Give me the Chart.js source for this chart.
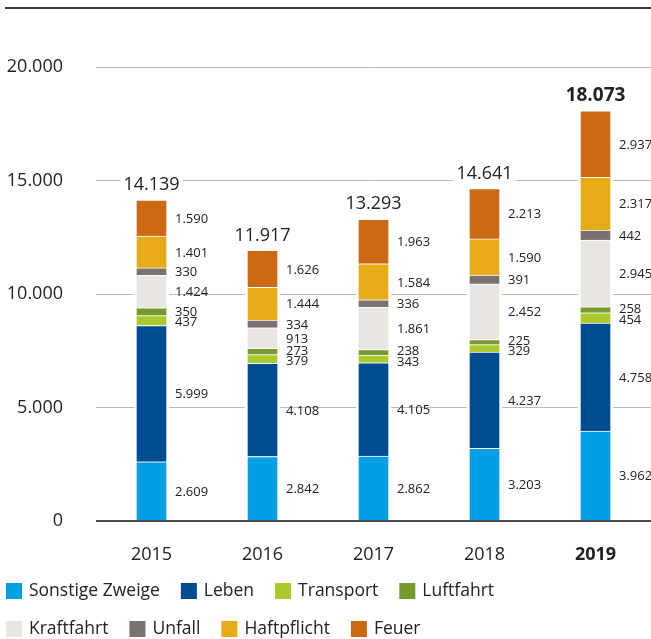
<!DOCTYPE html>
<html>
<head>
<meta charset="utf-8">
<script src="https://cdn.jsdelivr.net/npm/chart.js@4/dist/chart.umd.min.js"></script>
<style>
  html, body { margin: 0; padding: 0; background: #fff; }
  #wrap { width: 651px; height: 639px; position: relative; }
</style>
</head>
<body>
<div id="wrap"><canvas id="c"></canvas></div>
<script>
// Beitragseinnahmen nach Sparten, 2015–2019
const years = ['2015', '2016', '2017', '2018', '2019'];
const totals = [14139, 11917, 13293, 14641, 18073];

const sonstigeZweige = [2609, 2842, 2862, 3203, 3962];
const leben          = [5999, 4108, 4105, 4237, 4758];
const transport      = [437, 379, 343, 329, 454];
const luftfahrt      = [350, 273, 238, 225, 258];
const kraftfahrt     = [1424, 913, 1861, 2452, 2945];
const unfall         = [330, 334, 336, 391, 442];
const haftpflicht    = [1401, 1444, 1584, 1590, 2317];
const feuer          = [1590, 1626, 1963, 2213, 2937];

const yTicks = [0, 5000, 10000, 15000, 20000];

const seriesNames  = ['Sonstige Zweige', 'Leben', 'Transport', 'Luftfahrt', 'Kraftfahrt', 'Unfall', 'Haftpflicht', 'Feuer'];
const seriesValues = [sonstigeZweige, leben, transport, luftfahrt, kraftfahrt, unfall, haftpflicht, feuer];
const seriesColors = ['#009FE3', '#004C93', '#A9C92C', '#78992D', '#E9E6E1', '#7B716F', '#E6AB17', '#CB6914'];

const FONT = '"Open Sans", "Noto Sans", sans-serif';
const TEXT = '#222222';

const fmt = v => String(v).replace(/\B(?=(\d{3})+(?!\d))/g, '.');

// thin rule across the top of the figure
const topRule = {
  id: 'topRule',
  afterDraw(chart) {
    const c = chart.ctx;
    c.save();
    c.strokeStyle = '#3a3a3a';
    c.lineWidth = 2;
    c.beginPath();
    c.moveTo(5, 8);
    c.lineTo(chart.width, 8);
    c.stroke();
    c.restore();
  }
};

// baseline at zero, drawn over the bars
const zeroLine = {
  id: 'zeroLine',
  afterDatasetsDraw(chart) {
    const c = chart.ctx, a = chart.chartArea;
    const y = Math.round(chart.scales.y.getPixelForValue(0));
    c.save();
    c.strokeStyle = '#4a4a4a';
    c.lineWidth = 2;
    c.beginPath();
    c.moveTo(a.left, y);
    c.lineTo(a.right, y);
    c.stroke();
    c.restore();
  }
};

// value labels to the right of every segment, nudged apart where they collide
const segmentLabels = {
  id: 'segmentLabels',
  afterDatasetsDraw(chart) {
    const c = chart.ctx;
    const gap = 10.5;
    c.save();
    c.font = '13px ' + FONT;
    c.fillStyle = TEXT;
    c.textAlign = 'left';
    c.textBaseline = 'middle';
    years.forEach((_, i) => {
      const items = [];
      chart.data.datasets.forEach((ds, d) => {
        const el = chart.getDatasetMeta(d).data[i];
        items.push({ y: (el.y + el.base) / 2, x: el.x + el.width / 2 + 6, text: fmt(ds.data[i]) });
      });
      // items run bottom to top (y decreasing)
      for (let it = 0; it < 200; it++) {
        let moved = false;
        for (let k = 0; k < items.length - 1; k++) {
          const lo = items[k], hi = items[k + 1];
          const sep = lo.y - hi.y;
          if (sep < gap) {
            const push = (gap - sep) / 2;
            lo.y += push; hi.y -= push;
            moved = true;
          }
        }
        if (!moved) break;
      }
      items.forEach(o => c.fillText(o.text, o.x, o.y + 1));
    });
    c.restore();
  }
};

// totals above each stack
const totalLabels = {
  id: 'totalLabels',
  afterDatasetsDraw(chart) {
    const c = chart.ctx, ys = chart.scales.y, xs = chart.scales.x;
    c.save();
    c.textAlign = 'center';
    c.textBaseline = 'middle';
    totals.forEach((t, i) => {
      const bold = i === years.length - 1;
      c.font = (bold ? 'bold 19px ' : '18px ') + FONT;
      const x = xs.getPixelForValue(i);
      const y = ys.getPixelForValue(t) - 15;
      const w = c.measureText(fmt(t)).width;
      c.fillStyle = '#fff';
      c.fillRect(x - w / 2 - 3, y - 10, w + 6, 20);
      c.fillStyle = TEXT;
      c.fillText(fmt(t), x, y);
    });
    c.restore();
  }
};

// two-row legend below the axis
const legendRows = {
  id: 'legendRows',
  afterDraw(chart) {
    const c = chart.ctx;
    const rows = [[0, 1, 2, 3], [4, 5, 6, 7]];
    const rowY = [591, 629];
    c.save();
    c.font = '17.5px ' + FONT;
    c.textBaseline = 'middle';
    c.textAlign = 'left';
    rows.forEach((row, r) => {
      let x = 6;
      row.forEach(s => {
        c.fillStyle = seriesColors[s];
        c.fillRect(x, rowY[r] - 8, 16, 16);
        c.fillStyle = TEXT;
        c.fillText(seriesNames[s], x + 23, rowY[r]);
        x += 23 + c.measureText(seriesNames[s]).width + 21;
      });
    });
    c.restore();
  }
};

new Chart(document.getElementById('c'), {
  type: 'bar',
  data: {
    labels: years,
    datasets: seriesNames.map((name, s) => ({
      label: name,
      data: seriesValues[s],
      backgroundColor: seriesColors[s],
      borderColor: '#ffffff',
      borderWidth: { left: 3, right: 3, top: 1, bottom: 0 },
      borderSkipped: false,
      barThickness: 35
    }))
  },
  options: {
    responsive: true,
    maintainAspectRatio: false,
    animation: false,
    layout: { padding: { top: 67, right: 0, bottom: 74, left: 0 } },
    plugins: { legend: { display: false }, tooltip: { enabled: false } },
    scales: {
      x: {
        stacked: true,
        grid: { display: false, drawTicks: false },
        border: { display: false },
        afterFit: scale => { scale.height = 44; },
        ticks: {
          color: TEXT,
          padding: 23,
          maxRotation: 0,
          font: ctx => ({ family: FONT, size: 18, weight: ctx.index === years.length - 1 ? 'bold' : 'normal' })
        }
      },
      y: {
        stacked: true,
        min: 0,
        max: 20000,
        afterBuildTicks: scale => { scale.ticks = yTicks.map(v => ({ value: v })); },
        afterFit: scale => { scale.width = 96; },
        border: { display: false },
        grid: {
          drawTicks: false,
          color: ctx => (ctx.tick && ctx.tick.value === 0 ? 'rgba(0,0,0,0)' : '#BFB8B2'),
          lineWidth: 1
        },
        ticks: {
          color: TEXT,
          padding: 33,
          font: { family: FONT, size: 18 },
          callback: v => fmt(v)
        }
      }
    }
  },
  plugins: [topRule, zeroLine, segmentLabels, totalLabels, legendRows]
});
</script>
</body>
</html>
